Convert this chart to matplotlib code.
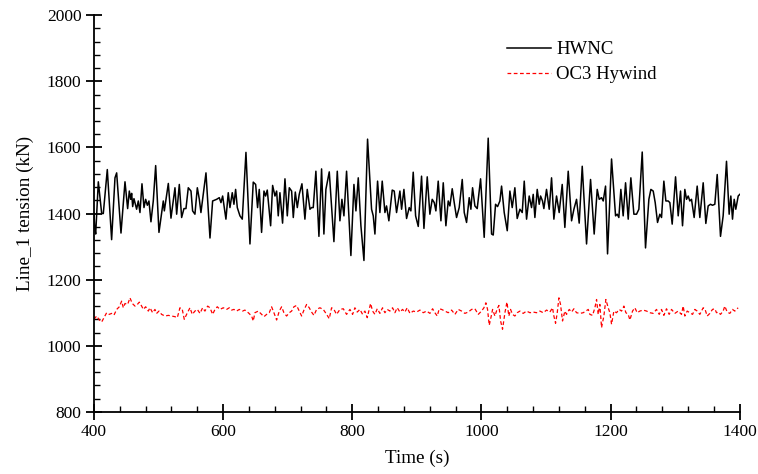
import matplotlib
matplotlib.use("Agg")
import matplotlib.pyplot as plt
from matplotlib.ticker import MultipleLocator

plt.rcParams["font.family"] = ["Liberation Serif", "DejaVu Serif"]

# HWNC line 1 tension (peaks / troughs)
hwnc_t = [
    400.0, 401.0, 402.6, 406.7, 411.9, 414.4, 420.6, 427.3, 432.5, 435.1,
    441.8, 448.0, 452.1, 454.7, 456.8, 458.3, 459.9, 461.9, 466.0, 468.6,
    471.2, 474.3, 477.4, 480.0, 482.6, 485.1, 488.2, 491.8, 495.5, 500.6,
    507.3, 508.9, 515.1, 519.2, 525.4, 528.0, 532.1, 535.7, 539.3, 542.4,
    546.0, 550.2, 552.7, 556.3, 560.0, 563.1, 565.6, 569.2, 573.4, 579.6,
    583.7, 589.9, 594.0, 596.6, 599.2, 601.8, 604.3, 607.9, 610.5, 614.1,
    616.7, 619.3, 621.9, 626.0, 629.6, 635.3, 641.5, 646.6, 650.3, 653.3,
    655.9, 659.5, 663.2, 665.7, 668.3, 673.5, 676.6, 680.2, 682.8, 685.3,
    687.9, 692.0, 695.7, 699.3, 702.4, 706.0, 708.6, 711.7, 714.8, 717.8,
    722.0, 726.6, 730.2, 734.4, 736.9, 739.5, 743.6, 748.3, 752.4, 756.0,
    759.1, 764.3, 771.5, 776.7, 780.8, 783.9, 787.0, 791.1, 797.8, 802.5,
    805.6, 809.2, 813.3, 818.0, 823.6, 829.8, 832.4, 835.0, 839.1, 842.7,
    846.3, 850.5, 853.0, 856.6, 861.8, 864.9, 868.5, 873.7, 876.3, 879.9,
    884.0, 888.1, 890.7, 894.3, 898.0, 902.1, 907.2, 910.9, 916.0, 920.1,
    923.7, 926.9, 929.4, 933.0, 937.2, 940.8, 944.9, 948.5, 951.1, 954.7,
    957.8, 961.4, 965.5, 970.2, 973.3, 976.9, 981.0, 983.6, 986.2, 989.8,
    993.4, 998.6, 1004.2, 1010.4, 1015.6, 1018.2, 1021.8, 1024.9, 1028.5, 1031.1,
    1035.2, 1039.9, 1044.0, 1047.6, 1051.7, 1055.3, 1059.5, 1063.1, 1066.2, 1069.8,
    1073.9, 1077.5, 1080.1, 1082.7, 1086.3, 1089.4, 1091.5, 1094.5, 1096.6, 1100.7,
    1104.9, 1108.5, 1112.1, 1116.2, 1120.3, 1125.0, 1129.1, 1134.3, 1139.5, 1143.1,
    1147.2, 1151.3, 1156.0, 1162.7, 1168.9, 1174.5, 1179.2, 1182.3, 1185.9, 1188.5,
    1192.1, 1195.2, 1201.4, 1207.6, 1210.2, 1212.7, 1215.8, 1219.4, 1223.1, 1227.2,
    1231.3, 1236.0, 1240.1, 1243.7, 1248.9, 1254.0, 1259.2, 1262.3, 1265.9, 1269.0,
    1272.6, 1276.2, 1278.8, 1282.4, 1285.5, 1289.1, 1291.7, 1295.3, 1300.5, 1304.6,
    1308.2, 1311.3, 1314.9, 1317.5, 1320.1, 1322.6, 1325.2, 1329.3, 1334.0, 1338.1,
    1343.3, 1347.4, 1351.0, 1354.6, 1357.7, 1361.3, 1365.0, 1370.1, 1374.2, 1379.4,
    1383.5, 1386.1, 1388.7, 1391.3, 1393.8, 1397.5, 1400.0,
]
hwnc_kn = [
    1400, 1360, 1338, 1496, 1400, 1400, 1533, 1321, 1508, 1523,
    1341, 1496, 1415, 1468, 1443, 1461, 1421, 1445, 1413, 1438,
    1403, 1490, 1418, 1443, 1425, 1438, 1375, 1438, 1545, 1343,
    1438, 1408, 1491, 1386, 1478, 1398, 1488, 1388, 1415, 1415,
    1478, 1468, 1408, 1398, 1478, 1443, 1403, 1458, 1523, 1326,
    1438, 1443, 1448, 1433, 1453, 1418, 1383, 1463, 1418, 1463,
    1428, 1473, 1418, 1393, 1383, 1585, 1308, 1495, 1488, 1418,
    1473, 1343, 1468, 1453, 1471, 1363, 1485, 1453, 1468, 1393,
    1463, 1371, 1505, 1393, 1478, 1468, 1388, 1465, 1418, 1458,
    1490, 1383, 1473, 1413, 1418, 1418, 1528, 1331, 1535, 1338,
    1473, 1526, 1315, 1528, 1378, 1443, 1393, 1528, 1273, 1488,
    1408, 1508, 1363, 1258, 1625, 1413, 1393, 1338, 1498, 1403,
    1498, 1403, 1423, 1378, 1471, 1468, 1403, 1468, 1413, 1473,
    1385, 1418, 1408, 1525, 1393, 1361, 1513, 1355, 1511, 1398,
    1443, 1433, 1408, 1498, 1378, 1493, 1363, 1438, 1423, 1475,
    1433, 1388, 1418, 1503, 1403, 1373, 1448, 1413, 1478, 1423,
    1415, 1505, 1328, 1628, 1338, 1335, 1428, 1421, 1438, 1483,
    1403, 1348, 1468, 1418, 1478, 1385, 1413, 1403, 1498, 1383,
    1453, 1418, 1458, 1388, 1473, 1428, 1453, 1438, 1415, 1473,
    1413, 1508, 1383, 1453, 1403, 1488, 1358, 1528, 1378, 1413,
    1443, 1371, 1543, 1308, 1503, 1338, 1473, 1443, 1448, 1438,
    1483, 1278, 1565, 1393, 1398, 1388, 1473, 1393, 1493, 1383,
    1508, 1398, 1398, 1413, 1586, 1296, 1443, 1473, 1468, 1433,
    1373, 1398, 1388, 1498, 1438, 1438, 1433, 1368, 1511, 1393,
    1468, 1363, 1473, 1443, 1453, 1438, 1443, 1388, 1483, 1388,
    1493, 1370, 1423, 1428, 1425, 1428, 1518, 1331, 1393, 1558,
    1398, 1453, 1383, 1443, 1413, 1453, 1458,
]

# OC3 Hywind line 1 tension
oc3_t = [
    400.0, 404.1, 408.3, 411.9, 415.5, 419.6, 423.7, 427.3, 431.0, 435.1,
    439.2, 442.8, 445.4, 448.0, 452.1, 455.7, 459.3, 463.5, 467.1, 470.2,
    473.8, 476.4, 480.0, 484.1, 486.7, 490.8, 494.4, 497.0, 500.6, 504.7,
    509.9, 515.1, 520.2, 525.4, 529.0, 533.1, 536.7, 539.8, 543.4, 548.6,
    552.2, 556.3, 560.0, 564.1, 568.2, 571.8, 576.0, 579.6, 583.7, 587.3,
    590.9, 595.0, 600.2, 605.4, 609.5, 613.1, 616.7, 620.8, 625.0, 630.1,
    633.7, 638.9, 644.1, 646.6, 649.2, 654.4, 659.5, 663.2, 667.3, 671.4,
    675.0, 678.6, 682.8, 686.9, 690.5, 694.1, 698.2, 702.4, 706.0, 709.6,
    713.7, 717.9, 721.5, 725.1, 729.2, 733.3, 736.9, 740.6, 744.7, 749.8,
    755.0, 760.2, 764.3, 767.9, 771.5, 775.6, 780.8, 786.0, 791.1, 796.3,
    800.4, 804.0, 807.6, 811.8, 815.9, 819.5, 823.1, 826.2, 828.3, 831.4,
    835.0, 838.6, 842.7, 846.8, 850.5, 854.1, 858.2, 862.3, 865.9, 869.6,
    873.7, 877.8, 881.4, 885.0, 889.2, 894.4, 899.5, 904.7, 909.8, 915.0,
    920.2, 924.3, 927.9, 931.5, 934.6, 938.2, 943.4, 948.5, 953.7, 958.9,
    964.0, 969.2, 974.3, 979.5, 984.7, 989.8, 995.0, 1000.1, 1003.8, 1006.8,
    1009.4, 1012.0, 1014.6, 1017.2, 1020.8, 1024.4, 1027.0, 1029.6, 1032.6, 1036.3,
    1039.4, 1042.4, 1045.0, 1048.1, 1051.7, 1055.3, 1059.5, 1064.6, 1069.8, 1075.0,
    1080.1, 1085.3, 1090.4, 1095.6, 1100.8, 1105.9, 1110.0, 1112.1, 1114.7, 1117.3,
    1119.9, 1122.4, 1125.5, 1129.1, 1131.7, 1135.9, 1139.5, 1143.1, 1147.2, 1152.4,
    1157.5, 1161.6, 1165.3, 1167.8, 1172.0, 1175.6, 1178.2, 1180.7, 1183.3, 1185.9,
    1189.5, 1192.6, 1196.2, 1198.8, 1201.4, 1205.0, 1209.1, 1213.2, 1216.9, 1220.5,
    1223.6, 1227.2, 1229.8, 1233.9, 1237.5, 1241.1, 1245.2, 1250.4, 1255.6, 1260.7,
    1265.9, 1271.0, 1275.2, 1278.8, 1282.4, 1286.5, 1290.6, 1294.3, 1299.4, 1304.6,
    1309.7, 1312.3, 1314.9, 1318.5, 1322.6, 1326.8, 1330.4, 1334.0, 1338.1, 1343.3,
    1345.9, 1349.5, 1353.6, 1357.7, 1361.3, 1363.9, 1366.5, 1370.1, 1374.2, 1376.8,
    1380.4, 1384.5, 1388.7, 1392.3, 1397.4,
]
oc3_kn = [
    1080, 1090, 1078, 1072, 1085, 1100, 1095, 1098, 1093, 1110,
    1118, 1135, 1115, 1128, 1125, 1145, 1128, 1120, 1125, 1132,
    1120, 1110, 1118, 1105, 1115, 1100, 1110, 1098, 1105, 1095,
    1090, 1092, 1090, 1088, 1085, 1115, 1110, 1080, 1095, 1115,
    1095, 1105, 1110, 1098, 1115, 1105, 1120, 1115, 1095, 1110,
    1118, 1110, 1115, 1110, 1115, 1108, 1110, 1105, 1110, 1105,
    1108, 1100, 1090, 1075, 1100, 1105, 1095, 1088, 1095, 1100,
    1118, 1100, 1078, 1105, 1118, 1100, 1090, 1100, 1105, 1118,
    1122, 1105, 1090, 1108, 1125, 1115, 1102, 1092, 1110, 1115,
    1110, 1095, 1082, 1115, 1110, 1095, 1110, 1112, 1095, 1110,
    1095, 1115, 1102, 1110, 1095, 1105, 1085, 1110, 1128, 1105,
    1095, 1112, 1098, 1115, 1100, 1110, 1105, 1115, 1100, 1115,
    1102, 1110, 1102, 1115, 1098, 1105, 1102, 1108, 1100, 1105,
    1098, 1112, 1100, 1090, 1112, 1110, 1105, 1100, 1108, 1095,
    1110, 1105, 1098, 1102, 1110, 1112, 1095, 1105, 1115, 1130,
    1110, 1062, 1085, 1110, 1090, 1112, 1122, 1075, 1050, 1100,
    1132, 1090, 1110, 1095, 1090, 1100, 1105, 1098, 1105, 1100,
    1102, 1100, 1105, 1100, 1108, 1102, 1115, 1090, 1068, 1100,
    1145, 1125, 1075, 1105, 1095, 1110, 1102, 1112, 1100, 1098,
    1100, 1105, 1110, 1095, 1092, 1115, 1140, 1095, 1125, 1055,
    1090, 1140, 1115, 1100, 1065, 1105, 1100, 1110, 1105, 1120,
    1100, 1095, 1078, 1105, 1115, 1100, 1105, 1108, 1105, 1100,
    1098, 1110, 1095, 1110, 1092, 1112, 1095, 1110, 1098, 1105,
    1095, 1120, 1090, 1105, 1100, 1095, 1110, 1105, 1095, 1115,
    1112, 1090, 1098, 1110, 1112, 1100, 1102, 1095, 1105, 1120,
    1102, 1098, 1110, 1105, 1115,
]

fig = plt.figure(figsize=(7.58, 4.74), dpi=100)
ax = fig.add_axes([0.124, 0.131, 0.852, 0.837])

ax.plot(hwnc_t, hwnc_kn, color="black", lw=1.1, label="HWNC", solid_joinstyle="round")
ax.plot(oc3_t, oc3_kn, color="red", lw=0.9, linestyle=(0, (3, 2)), label="OC3 Hywind")

ax.set_xlim(400, 1400)
ax.set_ylim(800, 2000)
ax.xaxis.set_major_locator(MultipleLocator(200))
ax.xaxis.set_minor_locator(MultipleLocator(40))
ax.yaxis.set_major_locator(MultipleLocator(200))
ax.yaxis.set_minor_locator(MultipleLocator(40))

for side in ["top", "right"]:
    ax.spines[side].set_visible(False)
for side in ["left", "bottom"]:
    ax.spines[side].set_linewidth(1.3)

ax.tick_params(which="major", direction="inout", length=12, width=1.3, labelsize=12.5, pad=3)
ax.tick_params(which="minor", direction="in", length=4, width=1.0)

ax.set_xlabel("Time (s)", fontsize=13.8, labelpad=7)
ax.set_ylabel("Line_1 tension (kN)", fontsize=13.8, labelpad=9)

ax.legend(loc="upper left", bbox_to_anchor=(0.614, 0.977), frameon=False, fontsize=13.5,
          handlelength=2.3, handletextpad=0.3, labelspacing=0.42)

fig.savefig("out.png", dpi=100)
